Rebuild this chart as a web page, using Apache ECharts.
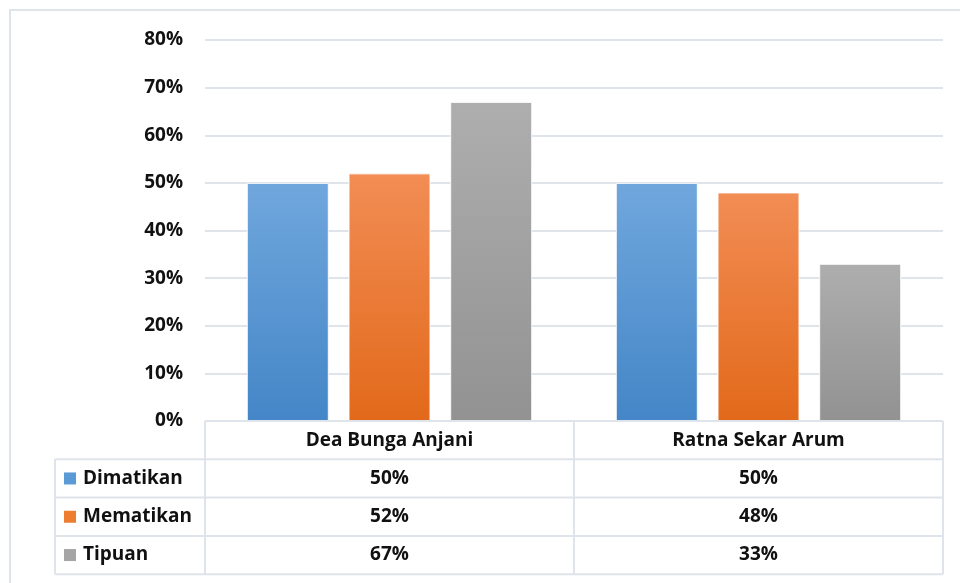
<!DOCTYPE html>
<html>
<head>
<meta charset="utf-8">
<script src="https://cdn.jsdelivr.net/npm/echarts@6/dist/echarts.min.js"></script>
<style>
  html, body { margin: 0; padding: 0; background: #fff; }
  #chart { width: 960px; height: 583px; }
</style>
</head>
<body>
<div id="chart"></div>
<script>
// Categories (people) and the three series, in percent
const categories = ['Dea Bunga Anjani', 'Ratna Sekar Arum'];
const seriesNames = ['Dimatikan', 'Mematikan', 'Tipuan'];
const dimatikan = [50, 50];
const mematikan = [52, 48];
const tipuan = [67, 33];
const yTicks = [0, 10, 20, 30, 40, 50, 60, 70, 80];

const seriesValues = [dimatikan, mematikan, tipuan];
const FONT = '"Open Sans", sans-serif';
const LINE = '#dfe3ea';
const TXT = '#111';

// Per-bar vertical gradients (light at the top, deeper at the base)
const fills = [
  ['#70a7dd', '#4486c7'],
  ['#f28d55', '#e2691a'],
  ['#aeaeae', '#929292']
];
const swatches = ['#5b9bd5', '#ed7d31', '#a5a5a5'];

const chart = echarts.init(document.getElementById('chart'), null, { renderer: 'canvas' });

const option = {
  animation: false,
  backgroundColor: '#fff',
  grid: { left: 205, right: 17, top: 40, bottom: 162 },
  xAxis: {
    type: 'category',
    data: categories,
    axisLine: { show: false },
    axisTick: { show: false },
    axisLabel: { show: false },
    splitLine: { show: false }
  },
  yAxis: {
    type: 'value',
    min: yTicks[0],
    max: yTicks[yTicks.length - 1],
    interval: 10,
    axisLine: { show: false },
    axisTick: { show: false },
    axisLabel: {
      formatter: '{value}%',
      margin: 22,
      color: TXT,
      fontFamily: FONT,
      fontWeight: 'bold',
      fontSize: 19
    },
    splitLine: { lineStyle: { color: LINE, width: 2 } }
  },
  series: seriesNames.map((name, i) => ({
    name: name,
    type: 'bar',
    data: seriesValues[i],
    barWidth: 82,
    barGap: '24%',
    itemStyle: {
      color: new echarts.graphic.LinearGradient(0, 0, 0, 1, [
        { offset: 0, color: fills[i][0] },
        { offset: 1, color: fills[i][1] }
      ]),
      borderColor: 'rgba(255,255,255,0.55)',
      borderWidth: 1
    }
  }))
};
chart.setOption(option);

// Data table underneath the plot, aligned to the category axis
function buildTable() {
  const y0 = chart.convertToPixel({ yAxisIndex: 0 }, 0);
  const xLeft = 205, xRight = 943, xLab = 55;
  const rowH = 38.3;
  const bandW = (xRight - xLeft) / categories.length;
  const els = [];

  // outer chart border
  els.push({
    type: 'rect', shape: { x: 10, y: 10, width: 980, height: 620 },
    style: { fill: null, stroke: LINE, lineWidth: 2 }, z: 1
  });

  const hline = (x1, x2, y) => els.push({
    type: 'line', shape: { x1: x1, y1: y, x2: x2, y2: y },
    style: { stroke: LINE, lineWidth: 2 }, z: 5
  });
  const vline = (x, y1, y2) => els.push({
    type: 'line', shape: { x1: x, y1: y1, x2: x, y2: y2 },
    style: { stroke: LINE, lineWidth: 2 }, z: 5
  });

  const nRows = seriesNames.length;
  const yBottom = y0 + rowH * (nRows + 1);
  hline(xLeft, xRight, y0);
  for (let r = 1; r <= nRows + 1; r++) hline(xLab, xRight, y0 + rowH * r);
  vline(xLab, y0 + rowH, yBottom);
  for (let c = 0; c <= categories.length; c++) vline(xLeft + bandW * c, y0, yBottom);

  const text = (x, y, s, align) => els.push({
    type: 'text', x: x, y: y, z: 6,
    style: {
      text: s, fill: TXT, font: 'bold 19px ' + FONT,
      align: align, verticalAlign: 'middle'
    }
  });

  categories.forEach((cat, c) => {
    const cx = chart.convertToPixel({ xAxisIndex: 0 }, cat);
    text(cx, y0 + rowH / 2, cat, 'center');
    seriesValues.forEach((vals, r) => {
      text(cx, y0 + rowH * (r + 1.5), vals[c] + '%', 'center');
    });
  });

  seriesNames.forEach((name, r) => {
    const cy = y0 + rowH * (r + 1.5);
    els.push({
      type: 'rect', shape: { x: 64, y: cy - 6, width: 12, height: 12 },
      style: { fill: swatches[r] }, z: 6
    });
    text(83, cy, name, 'left');
  });

  chart.setOption({ graphic: els });
}
buildTable();
</script>
</body>
</html>
